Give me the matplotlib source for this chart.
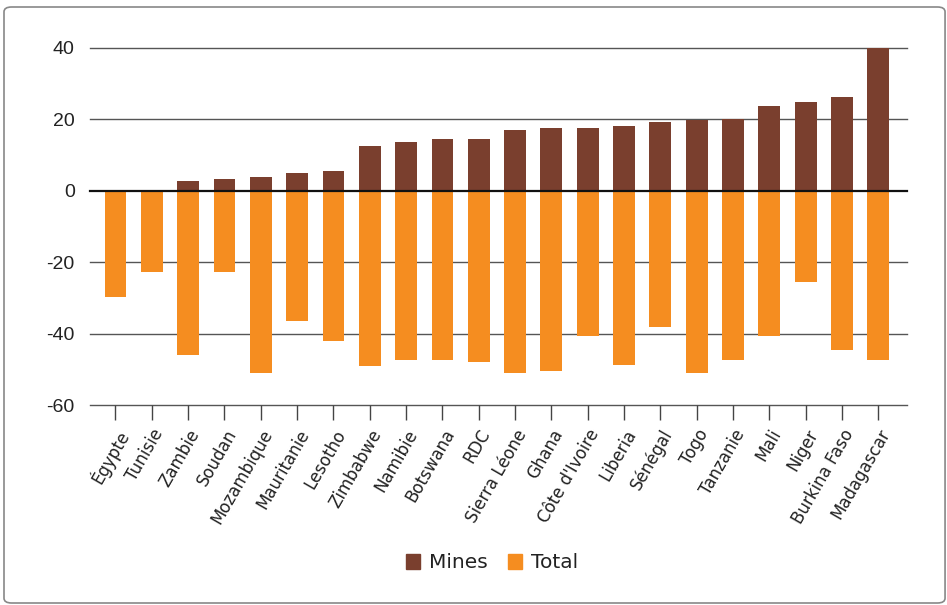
import matplotlib
matplotlib.use("Agg")
import matplotlib.pyplot as plt
from matplotlib.patches import FancyBboxPatch, Patch
import numpy as np

countries = ["Égypte", "Tunisie", "Zambie", "Soudan", "Mozambique", "Mauritanie",
             "Lesotho", "Zimbabwe", "Namibie", "Botswana", "RDC", "Sierra Léone",
             "Ghana", "Côte d'Ivoire", "Liberia", "Sénégal", "Togo", "Tanzanie",
             "Mali", "Niger", "Burkina Faso", "Madagascar"]
mines = [0, 0, 2.8, 3.4, 3.9, 5.0, 5.6, 12.6, 13.7, 14.5, 14.5, 17.1,
         17.6, 17.6, 18.2, 19.3, 19.8, 20.1, 23.8, 24.9, 26.3, 40.0]
total = [-29.6, -22.6, -46.0, -22.6, -51.1, -36.3, -41.9, -49.1, -47.4, -47.4, -48.0,
         -51.1, -50.5, -40.5, -48.6, -38.2, -51.1, -47.4, -40.5, -25.6, -44.4, -47.4]
yticks = [-60, -40, -20, 0, 20, 40]

c_mines = "#7A3F2E"
c_total = "#F58D20"

fig = plt.figure(figsize=(9.47, 6.05), dpi=100)
ax = fig.add_axes([90/947, 1-405.3/605, (906.7-90)/947, (405.3-47.7)/605])

x = np.arange(len(countries))
ax.bar(x, total, width=0.6, color=c_total, zorder=2, label="Total")
ax.bar(x, mines, width=0.6, color=c_mines, zorder=2, label="Mines")

ax.set_ylim(-60, 40)
ax.set_xlim(-0.7, len(countries) - 1 + 0.78)
ax.set_yticks(yticks)
ax.set_yticklabels([str(v) for v in yticks], fontsize=14, color="#222222",
                   family=["Liberation Sans", "DejaVu Sans"])
for v in yticks:
    if v == 0:
        ax.axhline(v, color="#111111", lw=1.6, zorder=3, clip_on=False)
    else:
        ax.axhline(v, color="#555555", lw=1.0, zorder=1, clip_on=False)
ax.tick_params(axis="y", length=0, pad=11)
ax.set_xticks(x)
ax.set_xticklabels(countries, rotation=60, ha="right", rotation_mode="anchor",
                   fontsize=12, color="#222222", family=["DejaVu Sans"])
ax.tick_params(axis="x", length=11, width=1, color="#444444", pad=4)
for s in ["top", "right", "left", "bottom"]:
    ax.spines[s].set_visible(False)

handles = [Patch(color=c_mines, label="Mines"), Patch(color=c_total, label="Total")]
fig.legend(handles=handles, loc="center", bbox_to_anchor=(492/947, 1-563/605),
           ncol=2, frameon=False, prop={"family": ["DejaVu Sans"], "size": 14.5},
           handlelength=0.7, handleheight=0.7, handletextpad=0.45, columnspacing=1.0,
           labelcolor="#222222")

border = FancyBboxPatch((4/947, 2/605), (946-4)/947 - 0.001, (600-4)/605,
                        boxstyle="round,pad=0,rounding_size=0.008",
                        transform=fig.transFigure, fill=False, edgecolor="#888888",
                        lw=1.2)
fig.patches.append(border)

fig.savefig("out.png", dpi=100)
